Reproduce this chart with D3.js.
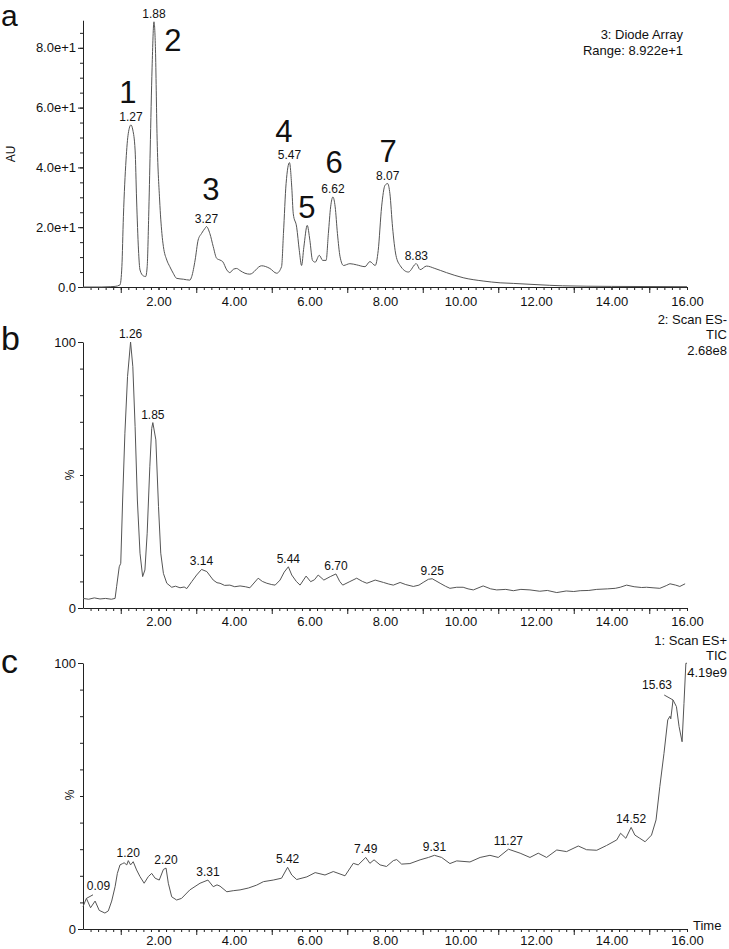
<!DOCTYPE html>
<html>
<head>
<meta charset="utf-8">
<script src="https://cdn.jsdelivr.net/npm/d3@7"></script>
<style>
body { margin: 0; background: #fff; }
text { font-family: "Liberation Sans", Arial, sans-serif; fill: #111; }
</style>
</head>
<body>
<div id="chart"></div>
<script>
// ---- data: [time (min), intensity] ----
var traceA = [
  [0.00,0.0],[0.50,0.0],[0.72,0.1],[0.85,0.2],[0.98,0.7],[1.03,6.8],[1.07,23.5],[1.14,42.5],[1.20,51.4],[1.27,54.2],
  [1.32,52.5],[1.38,45.8],[1.42,29.1],[1.47,12.4],[1.51,5.7],[1.60,3.7],[1.66,3.5],[1.70,6.8],[1.74,23.5],[1.78,45.8],
  [1.83,73.3],[1.88,88.7],[1.92,79.3],[1.96,51.4],[2.03,29.1],[2.09,17.9],[2.13,13.5],[2.22,9.0],[2.30,6.8],[2.39,4.6],
  [2.48,2.9],[2.66,2.6],[2.83,2.3],[2.88,3.5],[2.97,9.0],[3.05,15.7],[3.14,17.9],[3.23,19.6],[3.27,20.2],[3.36,17.9],
  [3.45,13.5],[3.54,9.6],[3.63,9.0],[3.70,8.5],[3.81,5.7],[3.89,4.8],[3.98,5.9],[4.07,6.2],[4.16,5.5],[4.29,4.6],
  [4.42,4.3],[4.73,7.1],[4.95,6.2],[5.13,4.6],[5.26,6.8],[5.31,17.9],[5.38,34.6],[5.47,41.6],[5.53,33.4],[5.57,24.5],
  [5.66,20.0],[5.73,12.2],[5.79,7.2],[5.85,13.3],[5.94,20.6],[6.01,15.6],[6.08,8.9],[6.15,8.3],[6.26,10.6],[6.35,8.9],
  [6.44,8.9],[6.50,17.9],[6.56,26.8],[6.62,30.1],[6.68,26.8],[6.74,17.9],[6.81,10.1],[6.90,7.2],[7.07,7.8],[7.25,7.4],
  [7.47,6.8],[7.60,8.5],[7.74,7.2],[7.82,12.2],[7.91,26.8],[8.00,34.0],[8.07,34.6],[8.13,31.2],[8.20,20.0],[8.29,10.6],
  [8.40,7.2],[8.62,5.0],[8.83,7.8],[8.93,5.8],[9.10,7.0],[9.32,6.2],[9.63,4.8],[10.07,3.1],[10.60,2.0],[11.05,1.4],
  [11.40,1.2],[12.00,0.8],[12.70,0.4],[14.00,0.2],[16.00,0.1]
];

var traceB = [
  [0.00,3.6],[0.15,3.3],[0.30,3.8],[0.45,3.4],[0.60,3.6],[0.75,3.3],[0.85,3.6],[0.89,8.0],[0.96,15.5],[1.00,16.8],
  [1.05,40.6],[1.11,65.7],[1.18,87.0],[1.26,100],[1.32,90.7],[1.38,68.2],[1.44,40.6],[1.51,20.6],[1.58,11.8],[1.64,14.3],
  [1.70,28.1],[1.77,53.1],[1.82,67.5],[1.85,69.7],[1.93,63.2],[2.00,38.1],[2.06,20.6],[2.13,13.0],[2.22,9.3],[2.35,7.8],
  [2.45,8.2],[2.57,7.6],[2.68,7.9],[2.75,7.3],[2.88,9.9],[3.01,12.4],[3.14,14.5],[3.28,13.7],[3.45,10.5],[3.55,9.5],
  [3.63,9.3],[3.75,8.5],[3.89,8.6],[4.02,8.0],[4.16,8.3],[4.30,8.0],[4.42,7.6],[4.64,11.2],[4.75,10.0],[4.87,9.3],
  [5.00,8.8],[5.09,8.6],[5.22,10.5],[5.33,13.5],[5.44,15.5],[5.53,12.4],[5.65,10.0],[5.75,8.6],[5.91,12.0],[6.03,9.9],
  [6.13,10.6],[6.23,12.4],[6.38,10.5],[6.55,11.8],[6.70,12.8],[6.80,10.0],[6.88,8.6],[7.05,9.8],[7.25,11.2],[7.40,10.0],
  [7.52,9.3],[7.74,10.5],[7.96,9.6],[8.10,9.0],[8.22,8.6],[8.40,9.6],[8.55,8.8],[8.75,8.1],[8.90,8.6],[9.01,9.6],
  [9.15,10.8],[9.25,11.0],[9.35,10.2],[9.46,9.3],[9.60,8.2],[9.72,7.4],[9.90,7.8],[10.07,7.8],[10.20,7.2],[10.34,6.8],
  [10.60,8.3],[10.80,7.2],[10.96,6.8],[11.20,7.0],[11.40,6.5],[11.60,7.0],[11.84,6.8],[12.10,6.3],[12.30,6.6],[12.55,5.8],
  [12.80,6.4],[13.00,6.2],[13.17,6.5],[13.40,6.6],[13.61,7.0],[13.90,7.2],[14.10,7.4],[14.23,7.8],[14.40,8.6],[14.60,8.0],
  [14.80,7.7],[14.93,7.8],[15.10,7.6],[15.28,7.4],[15.45,8.4],[15.55,9.1],[15.70,8.6],[15.81,8.1],[15.95,9.1]
];

var traceC = [
  [0.00,8.4],[0.09,11.5],[0.20,8.0],[0.32,10.5],[0.43,7.0],[0.58,6.0],[0.67,6.8],[0.76,10.5],[0.85,15.9],[0.91,20.9],
  [0.98,24.1],[1.05,24.6],[1.09,24.9],[1.16,24.1],[1.20,25.7],[1.26,24.1],[1.33,25.3],[1.42,22.2],[1.51,19.7],[1.62,17.2],
  [1.73,19.7],[1.82,20.9],[1.91,19.1],[2.02,18.4],[2.13,22.4],[2.20,22.9],[2.26,17.2],[2.35,12.1],[2.48,10.9],[2.61,11.5],
  [2.83,14.7],[3.10,17.2],[3.31,18.4],[3.45,15.9],[3.55,16.6],[3.63,16.1],[3.81,14.0],[3.98,14.4],[4.16,14.7],[4.38,15.4],
  [4.60,16.5],[4.78,17.8],[5.04,18.4],[5.26,19.1],[5.42,23.2],[5.53,20.3],[5.66,18.6],[5.93,19.6],[6.15,21.2],[6.41,20.3],
  [6.63,21.6],[6.94,20.0],[7.16,24.7],[7.29,24.1],[7.49,26.9],[7.60,24.7],[7.71,26.0],[7.87,24.1],[8.04,23.5],[8.22,25.7],
  [8.31,26.1],[8.44,24.4],[8.66,24.6],[8.93,26.0],[9.15,26.9],[9.31,27.7],[9.50,26.9],[9.72,24.6],[9.90,25.6],[10.25,25.2],
  [10.52,26.9],[10.78,27.7],[11.00,26.9],[11.27,30.0],[11.58,28.5],[11.84,26.9],[12.06,28.5],[12.28,26.9],[12.55,29.7],[12.81,29.1],
  [13.12,31.2],[13.34,29.8],[13.61,29.6],[13.87,31.4],[14.14,33.5],[14.24,36.0],[14.38,34.1],[14.52,38.2],[14.62,35.3],[14.75,34.1],
  [14.89,32.8],[15.06,35.3],[15.18,41.0],[15.28,53.5],[15.39,66.0],[15.49,78.6],[15.55,80.0],[15.57,79.0],[15.63,86.1],[15.72,83.6],
  [15.79,76.1],[15.87,70.4],[15.92,84.8],[15.97,99.9],[16.00,99.9]
];

// labelled peaks [time, intensity]
var peaksA = [[1.27,54.2],[1.88,88.7],[3.27,20.2],[5.47,41.6],[6.62,30.1],[8.07,34.6],[8.83,7.8]];
var peaksB = [[1.26,100],[1.85,69.7],[3.14,14.5],[5.44,15.5],[6.70,12.8],[9.25,11.0]];
var peaksC = [[0.09,11.5],[1.20,25.7],[2.20,22.9],[3.31,18.4],[5.42,23.2],[7.49,26.9],[9.31,27.7],[11.27,30.0],[14.52,38.2],[15.63,86.1]];

// compound numbers on the diode array trace [label, time, intensity]
var compounds = [["1",1.19,61.5],["2",2.38,78.9],["3",3.39,29.1],["4",5.32,48.5],["5",5.93,23.1],["6",6.65,38.1],["7",8.08,41.8]];

var headerA = ["3: Diode Array", "Range: 8.922e+1"];
var headerB = ["2: Scan ES-", "TIC", "2.68e8"];
var headerC = ["1: Scan ES+", "TIC", "4.19e9"];

var rangeA = 89.22;
var timeDomain = [0, 16];
var timeLabels = [2, 4, 6, 8, 10, 12, 14, 16];
var yLabelsA = [0, 20, 40, 60, 80];
var yLabelsPct = [0, 100];

// ---- layout ----
var width = 729, height = 949;
var line_color = "#555";
var axis_color = "#222";
var left = 83, right = 687;

var svg = d3.select('#chart').append('svg')
  .attr('width', width)
  .attr('height', height);

var x = d3.scaleLinear().domain(timeDomain).range([left, right]);

var minorX = d3.range(1, 80).map(function(i){ return i * 0.2; });
var oddX = d3.range(1, 16, 2);

var panels = [
  {letter: 'a', trace: traceA, peaks: peaksA, header: headerA, domain: [0, rangeA], top: 287 - rangeA * 2.99, bottom: 287,
   yLabels: yLabelsA, yMinor: d3.range(0, 90, 5), yTitle: 'AU', yTitleX: 15, yTitleY: 154,
   fmt: function(d){ return d === 0 ? '0.0' : d3.format('.1e')(d); },
   letterY: 26, letterSize: 30, xPad: 7, headerRight: 683, headerY: [39, 55], curve: d3.curveMonotoneX},
  {letter: 'b', trace: traceB, peaks: peaksB, header: headerB, domain: [0, 100], top: 342, bottom: 608,
   yLabels: yLabelsPct, yMinor: d3.range(0, 101, 10), yTitle: '%', yTitleX: 74, yTitleY: 475,
   fmt: d3.format('d'), letterY: 350, letterSize: 34, xPad: 6, headerRight: 727, headerY: [324, 339, 355], curve: d3.curveLinear},
  {letter: 'c', trace: traceC, peaks: peaksC, header: headerC, domain: [0, 100], top: 663, bottom: 929,
   yLabels: yLabelsPct, yMinor: d3.range(0, 101, 10), yTitle: '%', yTitleX: 74, yTitleY: 795,
   fmt: d3.format('d'), letterY: 673, letterSize: 34, xPad: 4, headerRight: 727, headerY: [645, 660, 677], curve: d3.curveLinear}
];

// peak labels that sit off the apex with a short leader line
var leaderOffsets = {"0.09": [12, -8], "15.63": [-16, -11]};

function styleAxis(g) {
  g.selectAll('path, line').attr('stroke', axis_color);
  g.selectAll('text').attr('font-size', '13px').attr('font-family', '"Liberation Sans", Arial, sans-serif').attr('fill', '#111');
}

panels.forEach(function(p) {
  var y = d3.scaleLinear().domain(p.domain).range([p.bottom, p.top]);
  var g = svg.append('g');

  // x axis: minor 0.2 ticks, taller odd-minute ticks, labelled even minutes
  g.append('g').attr('transform', 'translate(0,' + p.bottom + ')')
    .call(d3.axisBottom(x).tickValues(minorX).tickSize(3).tickFormat('').tickSizeOuter(0))
    .call(function(s){ s.select('.domain').remove(); })
    .call(styleAxis);
  g.append('g').attr('transform', 'translate(0,' + p.bottom + ')')
    .call(d3.axisBottom(x).tickValues(oddX).tickSize(6).tickFormat('').tickSizeOuter(0))
    .call(function(s){ s.select('.domain').remove(); })
    .call(styleAxis);
  g.append('g').attr('transform', 'translate(0,' + p.bottom + ')')
    .call(d3.axisBottom(x).tickValues(timeLabels).tickSize(3).tickPadding(p.xPad).tickSizeOuter(0).tickFormat(d3.format('.2f')))
    .call(styleAxis);

  // y axis
  g.append('g').attr('transform', 'translate(' + left + ',0)')
    .call(d3.axisLeft(y).tickValues(p.yMinor).tickSize(3).tickFormat('').tickSizeOuter(0))
    .call(function(s){ s.select('.domain').remove(); })
    .call(styleAxis);
  g.append('g').attr('transform', 'translate(' + left + ',0)')
    .call(d3.axisLeft(y).tickValues(p.yLabels).tickSize(5).tickPadding(2).tickSizeOuter(0).tickFormat(p.fmt))
    .call(styleAxis);

  // trace
  var line = d3.line()
    .x(function(d){ return x(d[0]); })
    .y(function(d){ return y(d[1]); })
    .curve(p.curve);
  g.append('path')
    .datum(p.trace)
    .attr('d', line)
    .attr('fill', 'none')
    .attr('stroke', line_color)
    .attr('stroke-width', 1);

  // retention time labels
  p.peaks.forEach(function(d) {
    var txt = d3.format('.2f')(d[0]);
    var px = x(d[0]), py = y(d[1]);
    var off = leaderOffsets[txt] || [0, -4];
    if (leaderOffsets[txt]) {
      g.append('line')
        .attr('x1', px).attr('y1', py)
        .attr('x2', px + off[0] * 0.55).attr('y2', py + off[1] * 0.45)
        .attr('stroke', line_color).attr('stroke-width', 1);
    }
    g.append('text')
      .attr('x', px + off[0])
      .attr('y', py + off[1])
      .attr('text-anchor', 'middle')
      .attr('font-size', '12px')
      .text(txt);
  });

  // header, top right
  g.selectAll('.hdr')
    .data(p.header)
    .enter()
    .append('text')
    .attr('x', p.headerRight)
    .attr('y', function(d, i){ return p.headerY[i]; })
    .attr('text-anchor', 'end')
    .attr('font-size', '13px')
    .text(function(d){ return d; });

  // y title
  g.append('text')
    .attr('transform', 'translate(' + p.yTitleX + ',' + p.yTitleY + ') rotate(-90)')
    .attr('text-anchor', 'middle')
    .attr('font-size', '12px')
    .text(p.yTitle);

  // panel letter
  g.append('text')
    .attr('x', 1)
    .attr('y', p.letterY)
    .attr('font-size', p.letterSize + 'px')
    .text(p.letter);

  if (p.letter === 'a') {
    g.selectAll('.cmp')
      .data(compounds)
      .enter()
      .append('text')
      .attr('x', function(d){ return x(d[1]); })
      .attr('y', function(d){ return y(d[2]); })
      .attr('text-anchor', 'middle')
      .attr('font-size', '31px')
      .text(function(d){ return d[0]; });
  }
  if (p.letter === 'c') {
    g.append('text')
      .attr('x', 693)
      .attr('y', 930)
      .attr('font-size', '13px')
      .text('Time');
  }
});
</script>
</body>
</html>
